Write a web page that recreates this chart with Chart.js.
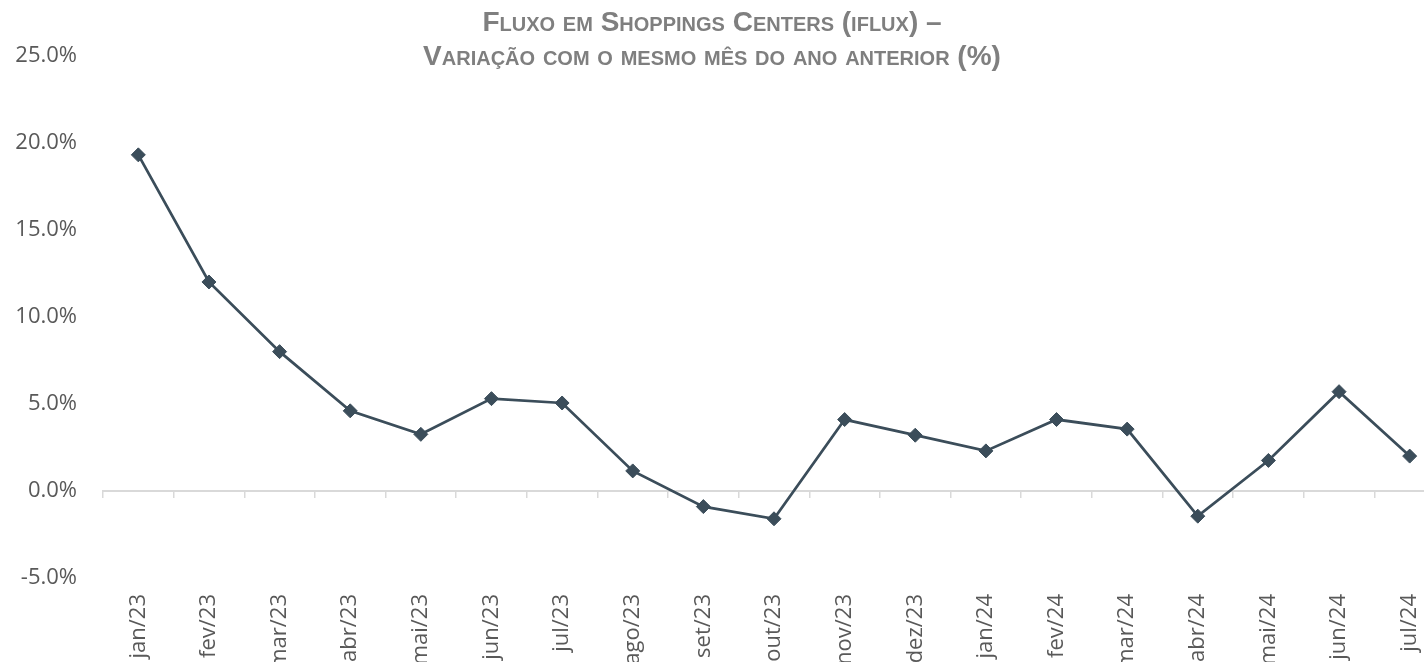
<!DOCTYPE html>
<html>
<head>
<meta charset="utf-8">
<script src="https://cdn.jsdelivr.net/npm/chart.js@4.4.1/dist/chart.umd.min.js"></script>
<style>
body { margin: 0; background: #ffffff; overflow: hidden; }
/* the plot runs past the right edge of the window, like the cropped original */
#wrap { width: 1453px; height: 662px; position: relative; }
</style>
</head>
<body>
<div id="wrap"><canvas id="myChart"></canvas></div>
<script>
var months = ["jan/23", "fev/23", "mar/23", "abr/23", "mai/23", "jun/23", "jul/23", "ago/23", "set/23", "out/23",
    "nov/23", "dez/23", "jan/24", "fev/24", "mar/24", "abr/24", "mai/24", "jun/24", "jul/24"];
var fluxValues = [19.3, 12.0, 8.0, 4.6, 3.25, 5.3, 5.05, 1.15, -0.9, -1.6,
    4.1, 3.2, 2.3, 4.1, 3.55, -1.45, 1.75, 5.7, 2.0];
var yMin = -5;
var yMax = 25;
var yStep = 5;
var titleLines = ["Fluxo em Shoppings Centers (iflux) –", "Variação com o mesmo mês do ano anterior (%)"];

var lineColor = "#3b4d5a";
var textColor = "#595959";
var axisGray = "#d9d9d9";
var visibleWidth = 1424;

// keep the title centred on the visible window, not on the wider canvas
var titleCenter = {
    id: "titleCenter",
    afterLayout: function(chart) {
        if (chart.titleBlock) {
            chart.titleBlock.left = 0;
            chart.titleBlock.right = visibleWidth;
        }
    }
};

new Chart("myChart", {
type: "line",
data: {
    labels: months,
    datasets: [{
        data: fluxValues,
        borderColor: lineColor,
        backgroundColor: lineColor,
        borderWidth: 2.75,
        pointStyle: "rectRot",
        pointRadius: 7,
        pointBorderWidth: 1,
        pointHoverRadius: 7,
        tension: 0,
        fill: false
    }]
},
options: {
    responsive: true,
    maintainAspectRatio: false,
    animation: false,
    layout: {
        padding: 0
    },
    scales: {
        x: {
            type: "category",
            offset: true,
            grid: {display: false},
            border: {display: false},
            ticks: {
                color: textColor,
                font: {family: "'Open Sans', sans-serif", size: 22},
                minRotation: 90,
                maxRotation: 90,
                autoSkip: false,
                padding: 8
            },
            afterFit: function(scale) {
                scale.height = 84;
                scale.paddingLeft = 0;
                scale.paddingRight = 0;
            }
        },
        // zero line with small tick marks between months
        x2: {
            type: "category",
            axis: "x",
            labels: months,
            offset: true,
            position: {y: 0},
            grid: {
                offset: true,
                drawOnChartArea: false,
                drawTicks: true,
                tickLength: 6,
                color: axisGray,
                lineWidth: 1.5
            },
            border: {display: true, color: axisGray, width: 2},
            ticks: {display: false}
        },
        y: {
            min: yMin,
            max: yMax,
            grid: {display: false, drawTicks: false},
            border: {display: false},
            ticks: {
                stepSize: yStep,
                color: textColor,
                font: {family: "'Open Sans', sans-serif", size: 22},
                padding: 26,
                callback: function(v) { return v.toFixed(1) + "%"; }
            },
            afterFit: function(scale) { scale.width = 103; }
        }
    },
    plugins: {
        legend: {display: false},
        tooltip: {enabled: false},
        title: {
            display: true,
            text: titleLines,
            color: "#7f7f7f",
            font: {family: "'Liberation Sans', Arial, sans-serif", size: 28, weight: "small-caps bold", lineHeight: 1.225},
            padding: {top: 6, bottom: -19}
        }
    }
},
plugins: [titleCenter]
});
</script>
</body>
</html>
